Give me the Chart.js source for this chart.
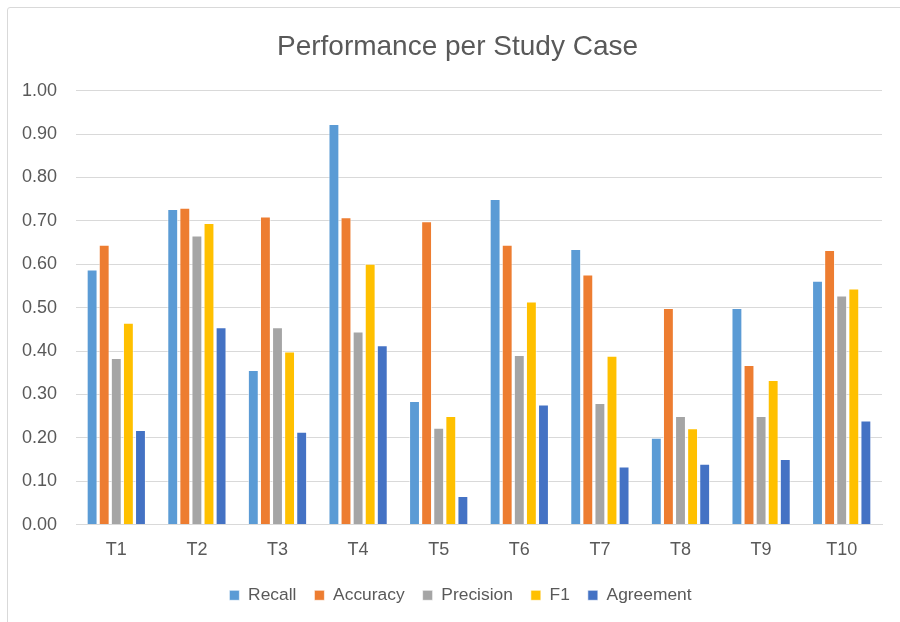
<!DOCTYPE html>
<html>
<head>
<meta charset="utf-8">
<script src="https://cdn.jsdelivr.net/npm/chart.js@4.4.0/dist/chart.umd.min.js"></script>
<style>
  body { margin: 0; background: #fff; overflow: hidden; }
  #box { position: absolute; left: 7px; top: 7px; width: 950px; height: 700px; border: 1px solid #d9d9d9; border-radius: 3px; }
  #wrap { position: absolute; left: 0; top: 0; width: 900px; height: 622px; }
</style>
</head>
<body>
<div id="box"></div>
<div id="wrap"><canvas id="canvas"></canvas></div>
<script>
var categorias = ["T1", "T2", "T3", "T4", "T5", "T6", "T7", "T8", "T9", "T10"];
var recall    = [0.588, 0.727, 0.356, 0.923, 0.285, 0.750, 0.635, 0.200, 0.499, 0.562];
var accuracy  = [0.645, 0.730, 0.710, 0.708, 0.699, 0.645, 0.576, 0.499, 0.368, 0.633];
var precision = [0.384, 0.666, 0.455, 0.445, 0.223, 0.391, 0.280, 0.250, 0.250, 0.528];
var f1        = [0.465, 0.695, 0.399, 0.601, 0.250, 0.514, 0.389, 0.222, 0.333, 0.544];
var agreement = [0.218, 0.455, 0.214, 0.413, 0.066, 0.277, 0.134, 0.140, 0.151, 0.240];

var fuente = "'Liberation Sans', Arial, sans-serif";
var gris = "#595959";

function serie(label, datos, color) {
  return {
    label: label,
    data: datos,
    backgroundColor: color,
    borderColor: "rgba(255,255,255,0.6)",
    borderWidth: 1,
    categoryPercentage: 0.75,
    barPercentage: 0.9
  };
}

// titulo y leyenda van centrados en toda la imagen, no en el area de layout
var centrarTextos = {
  id: "centrarTextos",
  afterLayout: function (chart) {
    chart.legend.left += 18;
    chart.legend.right += 18;
    chart.titleBlock.left += 15;
    chart.titleBlock.right += 15;
  }
};

var ctx = document.getElementById("canvas").getContext("2d");
window.myBar = new Chart(ctx, {
  type: "bar",
  data: {
    labels: categorias,
    datasets: [
      serie("Recall", recall, "#5b9bd5"),
      serie("Accuracy", accuracy, "#ed7d31"),
      serie("Precision", precision, "#a5a5a5"),
      serie("F1", f1, "#ffc000"),
      serie("Agreement", agreement, "#4472c4")
    ]
  },
  plugins: [centrarTextos],
  options: {
    responsive: true,
    maintainAspectRatio: false,
    animation: false,
    layout: { padding: { left: 3, right: 18, top: 30, bottom: 8 } },
    plugins: {
      title: {
        display: true,
        text: "Performance per Study Case",
        color: gris,
        font: { family: fuente, size: 28, weight: "normal" },
        padding: { top: 0, bottom: 27 }
      },
      legend: {
        position: "bottom",
        labels: {
          color: gris,
          font: { family: fuente, size: 17.4 },
          boxWidth: 10,
          boxHeight: 10,
          padding: 18
        }
      },
      tooltip: { enabled: false }
    },
    scales: {
      x: {
        grid: { display: false, drawTicks: false },
        border: { color: "#d9d9d9" },
        ticks: { color: gris, font: { family: fuente, size: 18 }, padding: 15 },
        afterFit: function (scale) { scale.height = 44; }
      },
      y: {
        min: 0,
        max: 1,
        ticks: {
          stepSize: 0.1,
          color: gris,
          font: { family: fuente, size: 18 },
          padding: 19,
          callback: function (v) { return v.toFixed(2); }
        },
        grid: { color: "#d9d9d9", lineWidth: 1, drawTicks: false },
        border: { display: false },
        afterFit: function (scale) { scale.width = 73; }
      }
    }
  }
});
</script>
</body>
</html>
